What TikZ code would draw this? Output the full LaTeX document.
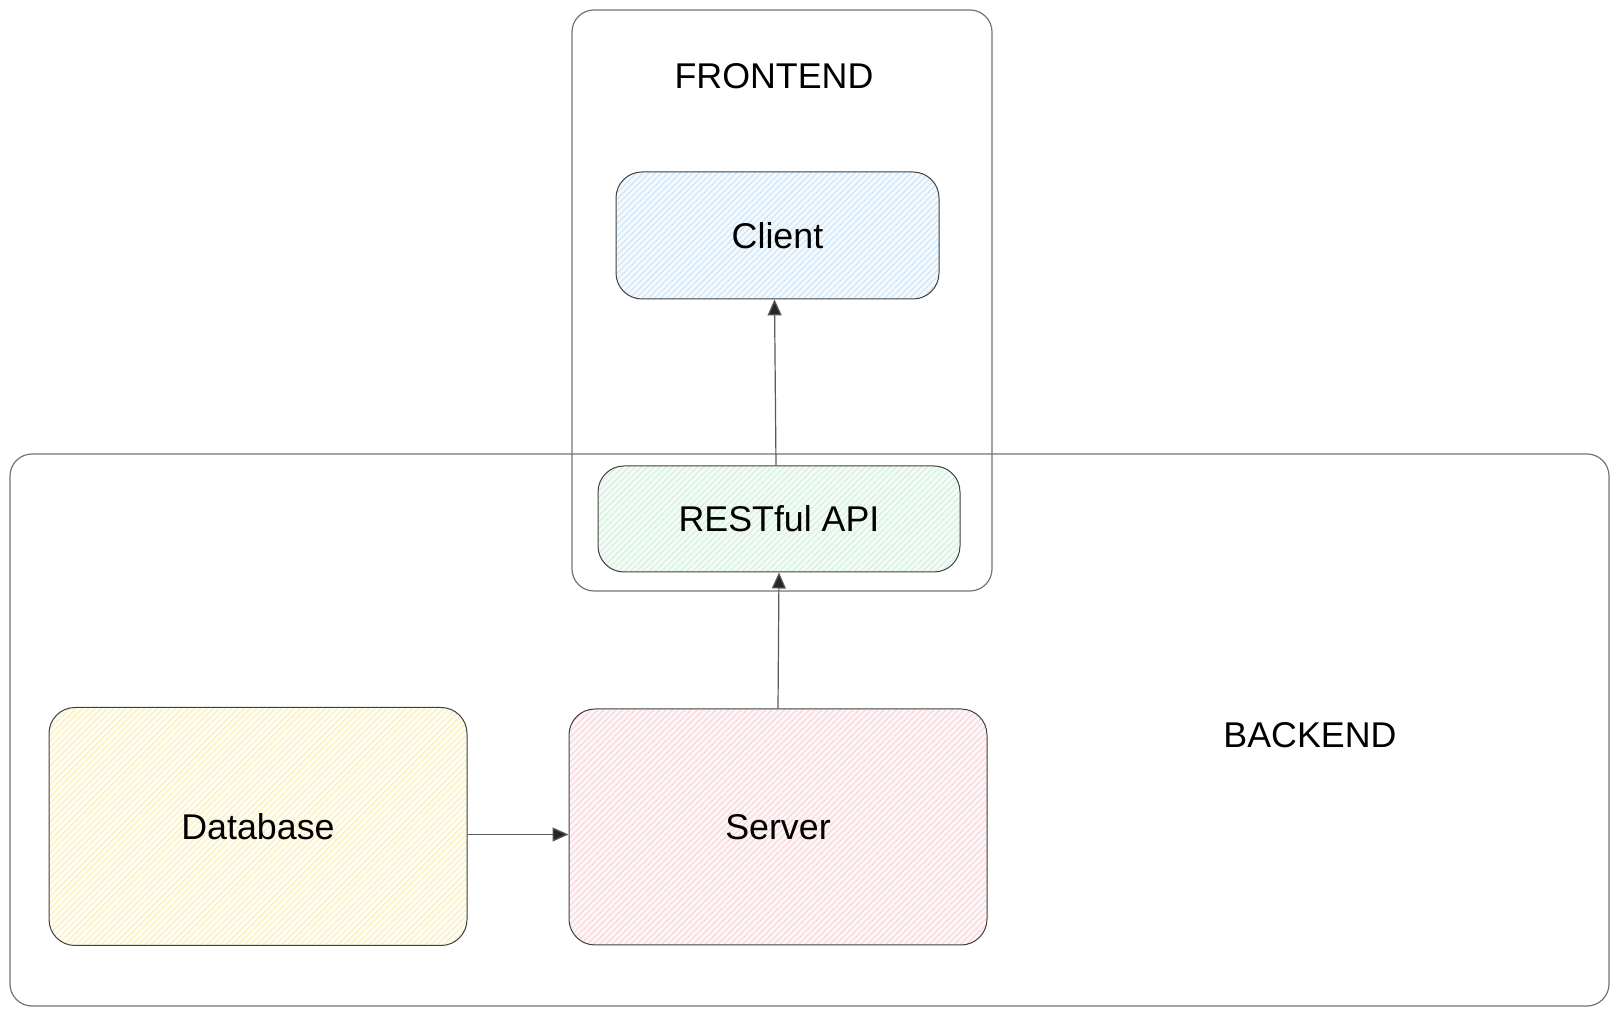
\documentclass[tikz,border=0pt]{standalone}
\usepackage{fontspec}
\setmainfont{Liberation Sans}
\usepackage{tikz}
\usetikzlibrary{arrows.meta,patterns.meta}

\definecolor{cliF}{HTML}{F4F9FE}
\definecolor{cliL}{HTML}{C6E2F8}
\definecolor{apiF}{HTML}{F4FBF6}
\definecolor{apiL}{HTML}{CDEFD8}
\definecolor{dbF}{HTML}{FFFDF2}
\definecolor{dbL}{HTML}{F8EDB8}
\definecolor{srvF}{HTML}{FDF5F6}
\definecolor{srvL}{HTML}{F6D2D8}

\begin{document}
\begin{tikzpicture}[x=0.5pt, y=-0.5pt,
  font=\fontsize{17.9}{21}\selectfont,
  group/.style={draw=black!55, line width=0.6pt, rounded corners=11pt, rectangle},
  box/.style={draw=black!75, line width=0.5pt, rounded corners=13pt, rectangle,
    preaction={fill=#1F}, pattern={Lines[angle=45,distance=2.2pt,line width=0.45pt]}, pattern color=#1L},
  link/.style={draw=black!65, line width=0.6pt, -{Triangle[length=8pt,width=7pt,fill=black!85]}}]
  \useasboundingbox (0,0) rectangle (1619,1015);

  % groups
  \node[group, minimum width=210pt, minimum height=290.5pt] (front) at (782,300.5) {};
  \node[group, minimum width=799.5pt, minimum height=276pt] (back) at (809.5,730) {};
  \node (frontlbl) at (774,76) {FRONTEND};
  \node (backlbl) at (1310,735) {BACKEND};

  % components
  \node[box=cli, minimum width=161.5pt, minimum height=63.5pt] (cli) at (777.5,235.5) {Client};
  \node[box=api, minimum width=181pt, minimum height=53pt] (api) at (779,519) {RESTful API};
  \node[box=db, minimum width=209pt, minimum height=119pt] (db) at (258,826.5) {Database};
  \node[box=srv, minimum width=209pt, minimum height=118pt] (srv) at (778,827) {Server};

  \draw[link] ([yshift=-4pt]db.east) -- ([yshift=-4pt]db.east -| srv.west);
  \draw[link] (srv.north) -- (api.south);
  \draw[link] ([xshift=-1.5pt]api.north) -- ([xshift=-1.5pt]cli.south);
\end{tikzpicture}
\end{document}
